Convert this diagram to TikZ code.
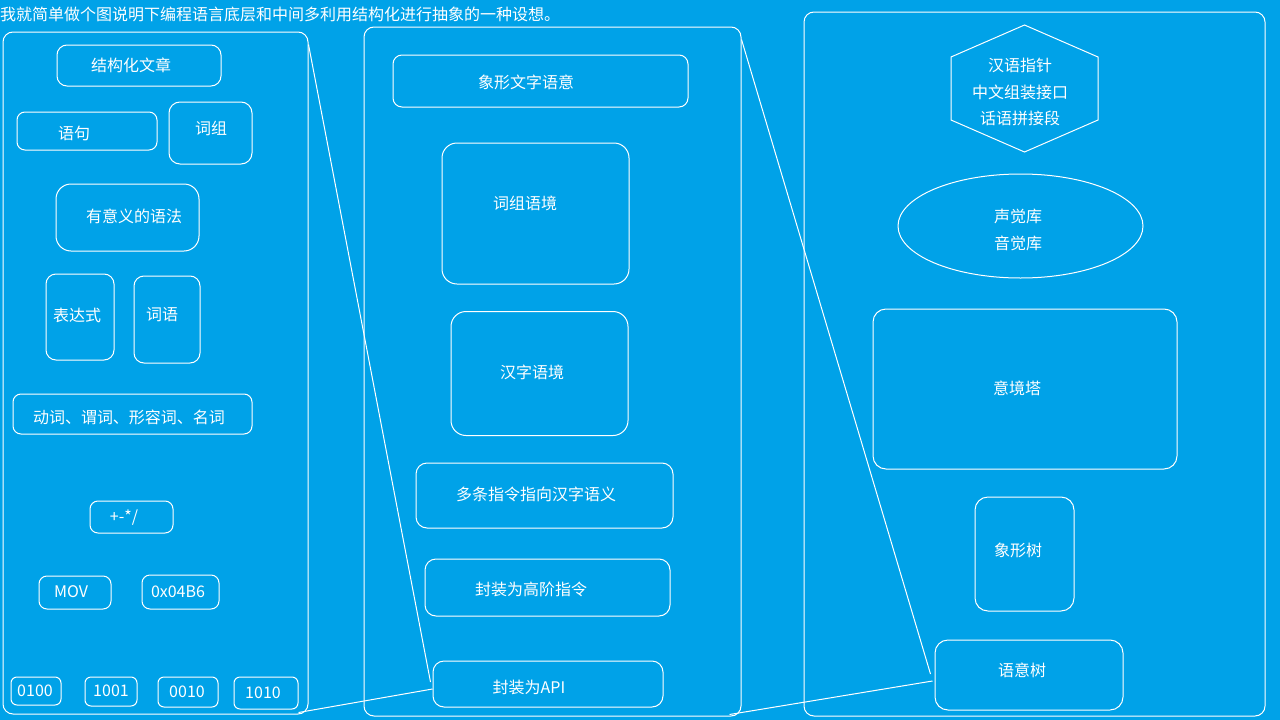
\documentclass[tikz,border=0pt]{standalone}
\usepackage{fontspec}
\setmainfont{Noto Sans CJK SC}
\usetikzlibrary{shapes.geometric}
\definecolor{paintblue}{RGB}{0,162,232}
\tikzset{
    box/.style 2 args={draw=white, line width=1pt, rounded corners=10pt,
        minimum width=#1, minimum height=#2, inner sep=0pt},
    txt/.style={text=white, inner sep=0pt, font=\fontsize{16pt}{20pt}\selectfont},
    stack/.style={txt, align=center, font=\fontsize{16pt}{26.5pt}\selectfont},
    zoomline/.style={draw=white, line width=1pt}
}
\begin{document}
\begin{tikzpicture}[x=1pt, y=-1pt]
    \useasboundingbox (0,0) rectangle (1280,720);
    \fill[paintblue] (0,0) rectangle (1280,720);
    \node[txt, anchor=west] (title) at (0,14) {我就简单做个图说明下编程语言底层和中间多利用结构化进行抽象的一种设想。};

    % panels
    \begin{scope}[every node/.append style={rounded corners=14pt}]
        \node[box={305pt}{682pt}] (left) at (155.5,373) {};
        \node[box={377pt}{689pt}] (mid) at (552.5,371.5) {};
        \node[box={461pt}{704pt}] (right) at (1034.5,364) {};
    \end{scope}

    % left panel
    \node[box={164pt}{41pt}] (essay) at (139,65.5) {};
    \node[box={140pt}{38pt}, rounded corners=8pt] (sent) at (87,131) {};
    \node[box={83pt}{62pt}, rounded corners=11pt] (phrase) at (210.5,133) {};
    \node[box={143pt}{67pt}, rounded corners=15pt] (grammar) at (127.5,217.5) {};
    \node[box={68pt}{86pt}] (expr) at (80,317) {};
    \node[box={66pt}{87pt}] (word) at (167,319.5) {};
    \node[box={239pt}{40pt}, rounded corners=8pt] (pos) at (132.5,414) {};
    \node[box={83pt}{32pt}, rounded corners=8pt] (ops) at (131.5,517) {};
    \node[box={72pt}{33pt}, rounded corners=8pt] (mov) at (75,592.5) {};
    \node[box={77pt}{34pt}, rounded corners=8pt] (addr) at (180.5,592) {};
    \node[box={50pt}{28pt}, rounded corners=6pt] (bin1) at (36,691) {};
    \node[box={52pt}{29pt}, rounded corners=6pt] (bin2) at (111,691.5) {};
    \node[box={60pt}{30pt}, rounded corners=6pt] (bin3) at (188,692) {};
    \node[box={64pt}{32pt}, rounded corners=6pt] (bin4) at (266,693) {};

    \node[txt] (essay-t) at (131,65) {结构化文章};
    \node[txt] (sent-t) at (74,133) {语句};
    \node[txt] (phrase-t) at (211,128) {词组};
    \node[txt] (grammar-t) at (134,216) {有意义的语法};
    \node[txt] (expr-t) at (77,315) {表达式};
    \node[txt] (word-t) at (162,315) {词语};
    \node[txt] (pos-t) at (129,417) {动词、谓词、形容词、名词};
    \node[txt] (ops-t) at (124,518) {+-*/};
    \node[txt] (mov-t) at (71,592) {MOV};
    \node[txt] (addr-t) at (178,592) {0x04B6};
    \node[txt] (bin1-t) at (35,691) {0100};
    \node[txt] (bin2-t) at (111,691) {1001};
    \node[txt] (bin3-t) at (187,692) {0010};
    \node[txt] (bin4-t) at (263,693) {1010};

    % middle panel
    \node[box={295pt}{52pt}, rounded corners=9pt] (glyph) at (540.5,81) {};
    \node[box={187pt}{141pt}, rounded corners=15pt] (phctx) at (535.5,213.5) {};
    \node[box={177pt}{124pt}, rounded corners=15pt] (hzctx) at (539.5,373.5) {};
    \node[box={257pt}{65pt}, rounded corners=11pt] (multi) at (544.5,495.5) {};
    \node[box={245pt}{57pt}, rounded corners=11pt] (high) at (547.5,587.5) {};
    \node[box={230pt}{46pt}, rounded corners=11pt] (api) at (548,684) {};

    \node[txt] (glyph-t) at (526,82) {象形文字语意};
    \node[txt] (phctx-t) at (525,203) {词组语境};
    \node[txt] (hzctx-t) at (532,372) {汉字语境};
    \node[txt] (multi-t) at (536,494) {多条指令指向汉字语义};
    \node[txt] (high-t) at (531,589) {封装为高阶指令};
    \node[txt] (api-t) at (529,687) {封装为API};

    % right panel
    \coordinate (hex) at (1024.5,88.5);
    \draw[zoomline] (hex) ++(0,-63.5) -- ++(-73.5,32) -- ++(0,63) -- ++(73.5,32)
        -- ++(73.5,-32) -- ++(0,-63) -- cycle;
    \node[stack] (ptr-t) at (1020,92) {汉语指针\\中文组装接口\\话语拼接段};
    \node[ellipse, draw=white, line width=1pt, minimum width=245pt, minimum height=104pt,
        inner sep=0pt] (sound) at (1020.5,226) {};
    \node[stack] (sound-t) at (1018,230) {声觉库\\音觉库};
    \node[box={304pt}{160pt}, rounded corners=13pt] (tower) at (1025,389) {};
    \node[box={99pt}{114pt}, rounded corners=13pt] (xtree) at (1024.5,554) {};
    \node[box={188pt}{70pt}, rounded corners=13pt] (sem) at (1029,675) {};

    \node[txt] (tower-t) at (1017,388) {意境塔};
    \node[txt] (xtree-t) at (1018,550) {象形树};
    \node[txt] (sem-t) at (1022,670) {语意树};

    % zoom lines
    \path[zoomline]
        ([yshift=-13pt]left.north east) edge ([shift={(-2pt,2pt)}]api.west)
        ([shift={(-10pt,2pt)}]left.south east) edge ([yshift=-5pt]api.west)
        ([yshift=-13pt]mid.north east) edge ([shift={(-4pt,1pt)}]sem.west)
        ([shift={(-12pt,2pt)}]mid.south east) edge ([shift={(-2pt,-6pt)}]sem.west);
\end{tikzpicture}
\end{document}
